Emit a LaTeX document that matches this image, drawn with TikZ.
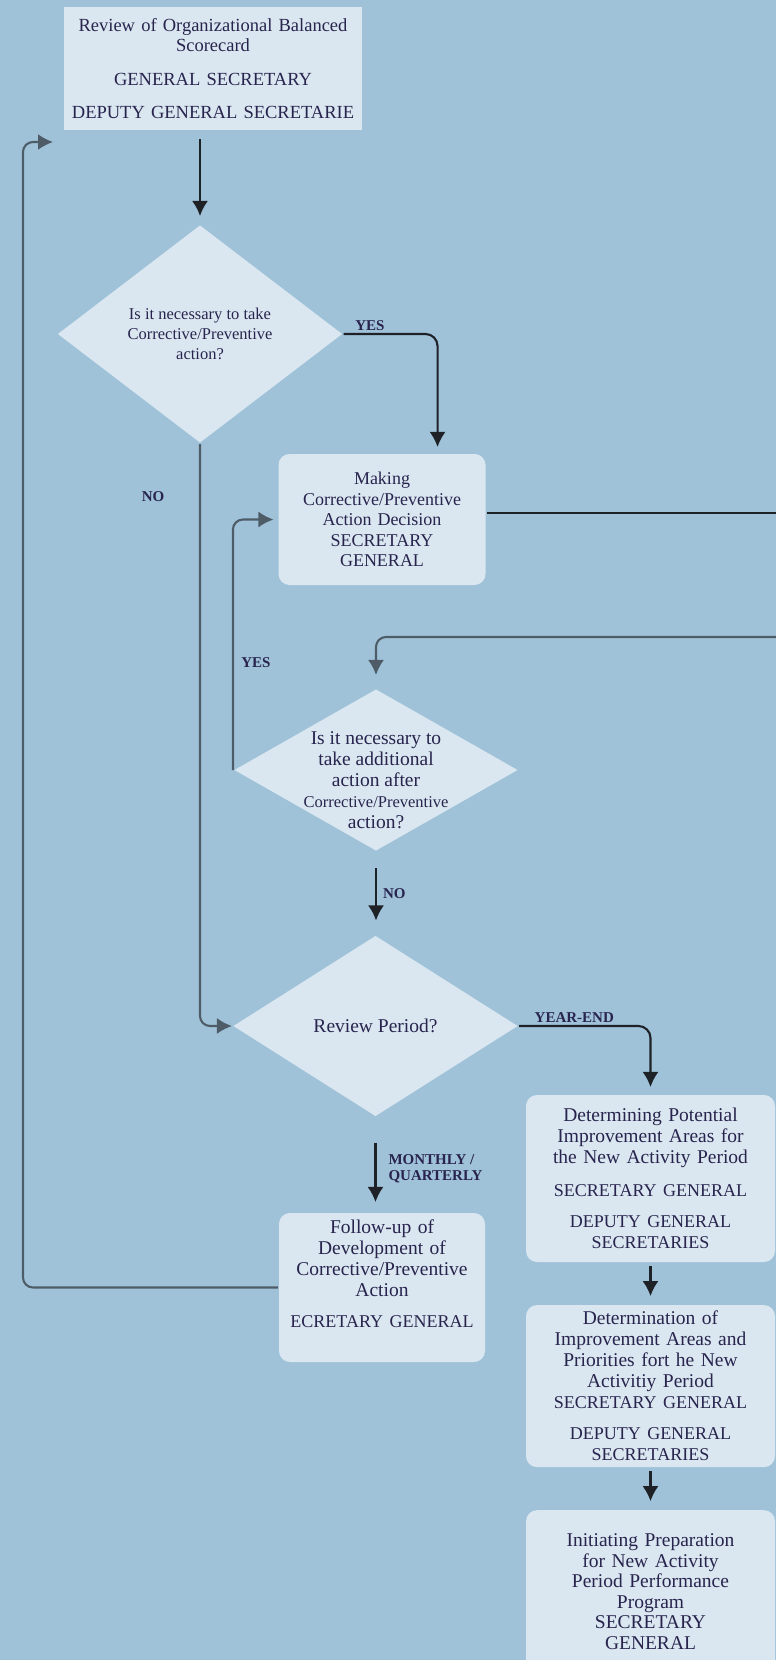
\documentclass[tikz,border=0pt]{standalone}
\usepackage{fontspec}
\setmainfont{Liberation Serif}
\usepackage{xcolor}
\usetikzlibrary{arrows.meta,positioning,shapes.geometric}
\definecolor{flowPageBlue}{RGB}{159,194,217}
\definecolor{flowBoxBlue}{RGB}{218,231,240}
\definecolor{flowInk}{RGB}{40,36,78}
\definecolor{flowLine}{RGB}{30,33,38}
\definecolor{flowGreyLine}{RGB}{78,92,104}
\colorlet{pageblue}{flowPageBlue}
\colorlet{boxblue}{flowBoxBlue}
\newcommand{\ttlsize}{\fontsize{19.5}{21}\selectfont}
\newcommand{\rolesize}{\fontsize{18}{21}\selectfont}
\newcommand{\asksize}{\fontsize{16.5}{20}\selectfont}

\begin{document}
\begin{tikzpicture}[x=1pt,y=-1pt,>={Latex[length=15pt,width=16pt]},line width=2.1pt,node distance=41pt,
  box/.style={fill=boxblue,rounded corners=11pt,align=center,text=flowInk,inner xsep=4pt,inner ysep=2pt,font=\ttlsize},
  decision/.style={shape=diamond,aspect=1.75,fill=boxblue,align=center,text=flowInk,inner sep=-8pt},
  lbl/.style={font=\bfseries\fontsize{15}{16}\selectfont,text=flowInk,inner sep=2pt},
  flow/.style={draw=flowLine,->},
  plainline/.style={draw=flowLine},
  backline/.style={draw=flowGreyLine,->,rounded corners=10pt}]
\path[use as bounding box,fill=pageblue] (0,0) rectangle (776,1660);
\node[box,sharp corners,font=\fontsize{18.5}{20}\selectfont,text width=290pt,minimum width=298pt,minimum height=123pt] (review) at (213,68.5) {Review of Organizational Balanced\\Scorecard\\[14pt]GENERAL SECRETARY\\[13pt]DEPUTY GENERAL SECRETARIE};
\node[decision,font=\asksize,minimum width=285pt,minimum height=218pt] (ask) at (200,334) {Is it necessary to take\\Corrective/Preventive\\action?};
\node[box,font=\fontsize{18}{20.5}\selectfont,text width=199pt,minimum width=207pt,minimum height=131pt] (decide) at (382,519.5) {Making\\Corrective/Preventive\\Action Decision\\SECRETARY\\GENERAL};
\node[decision,font=\ttlsize,inner sep=-16pt,minimum width=284pt,minimum height=162pt] (more) at (376,770) {\rule{0pt}{34pt}Is it necessary to\\take additional\\action after\\{\asksize Corrective/Preventive}\\action?};
\node[decision,font=\ttlsize,minimum width=285pt,minimum height=181pt] (period) at (375.5,1026) {Review Period?};
\node[box,text width=198pt,minimum width=206pt,minimum height=149pt] (follow) at (382,1287.5) {Follow-up of\\Development of\\Corrective/Preventive\\Action\\[10pt]{\rolesize ECRETARY GENERAL}\rule[-27pt]{0pt}{27pt}};
\node[box,text width=241pt,minimum width=249pt,minimum height=167pt] (potential) at (650.5,1178.5) {Determining Potential\\Improvement Areas for\\the New Activity Period\\[12pt]{\rolesize SECRETARY GENERAL\\[10pt]DEPUTY GENERAL\\SECRETARIES}};
\node[box,text width=241pt,minimum width=249pt,minimum height=162pt,below=of potential] (areas) {Determination of\\Improvement Areas and\\Priorities fort he New\\Activitiy Period\\{\rolesize SECRETARY GENERAL\\[10pt]DEPUTY GENERAL\\SECRETARIES}};
\node[box,font=\fontsize{19.5}{20.5}\selectfont,text width=241pt,minimum width=249pt,minimum height=163pt,below=of areas] (prep) {Initiating Preparation\\for New Activity\\Period Performance\\Program\\SECRETARY\\GENERAL};
\coordinate (edgeA) at (776,513);
\coordinate (edgeB) at (776,637);
\coordinate (loopTip) at (53,142);
\draw[flow,shorten <=8pt,shorten >=8pt] (review.south -| ask.north) -- (ask.north);
\draw[flow,rounded corners=12pt,shorten >=6pt] (ask.east) -| node[lbl,pos=0.14,above] (yesA) {YES} ([xshift=-49pt]decide.north east);
\draw[plainline] (decide.east |- edgeA) -- (edgeA);
\draw[backline,shorten >=13pt] (edgeB) -| (more.north);
\draw[backline] (ask.south) |- (period.west);
\node[lbl] (noA) at (153,497) {NO};
\draw[backline,shorten >=4pt] (more.west) |- (decide.west);
\node[lbl] (yesB) at (256,663) {YES};
\draw[flow,shorten <=16pt,shorten >=14pt] (more.south) -- node[lbl,right=4pt] (noB) {NO} (more.south |- period.north);
\draw[flow,rounded corners=12pt,shorten >=7pt] (period.east) -| node[lbl,pos=0.21,above] (yearEnd) {YEAR-END} (potential.north);
\draw[flow,shorten <=25pt,shorten >=10pt] (period.south) -- node[lbl,right=10pt,align=left,pos=0.54] (monthly) {MONTHLY /\\QUARTERLY} (period.south |- follow.north);
\draw[backline] (follow.west) -| ([xshift=-30pt]loopTip) -- (loopTip);
\draw[flow,shorten <=3pt,shorten >=8pt] (potential) -- (areas);
\draw[flow,shorten <=3pt,shorten >=8pt] (areas) -- (prep);
\end{tikzpicture}
\end{document}
